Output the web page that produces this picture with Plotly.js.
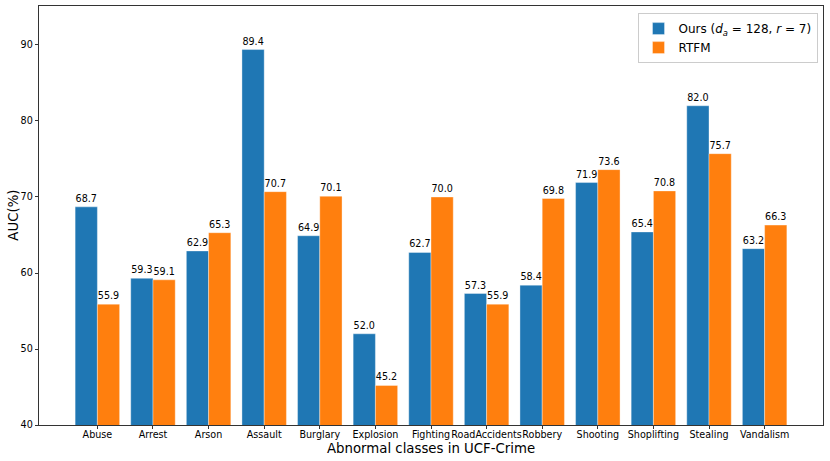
<!DOCTYPE html>
<html>
<head>
<meta charset="utf-8">
<script src="https://cdn.plot.ly/plotly-3.0.1.min.js"></script>
<style>
  html, body { margin: 0; padding: 0; background: #fff; }
  #chart { width: 830px; height: 461px; }
</style>
</head>
<body>
<div id="chart"></div>
<script>
var classes = ['Abuse', 'Arrest', 'Arson', 'Assault', 'Burglary', 'Explosion', 'Fighting',
    'RoadAccidents', 'Robbery', 'Shooting', 'Shoplifting', 'Stealing', 'Vandalism'];
var ours = [68.7, 59.3, 62.9, 89.4, 64.9, 52.0, 62.7, 57.3, 58.4, 71.9, 65.4, 82.0, 63.2];
var rtfm = [55.9, 59.1, 65.3, 70.7, 70.1, 45.2, 70.0, 55.9, 69.8, 73.6, 70.8, 75.7, 66.3];
var yTicks = [40, 50, 60, 70, 80, 90];

var positions = classes.map(function (c, i) { return i; });
var font = 'DejaVu Sans, sans-serif';

function series(name, values, color) {
    return {
        type: 'bar',
        name: name,
        x: positions,
        y: values,
        marker: {color: color, line: {color: 'rgba(255,255,255,0.6)', width: 0.6}},
        text: values.map(function (v) { return v.toFixed(1); }),
        textposition: 'outside',
        constraintext: 'none',
        cliponaxis: true,
        textfont: {family: font, size: 9.6, color: '#000'},
        hoverinfo: 'x+y'
    };
}

var data = [
    series('Ours (<i>d</i><sub><i>a</i></sub> = 128, <i>r</i> = 7)', ours, '#1f77b4'),
    series('RTFM', rtfm, '#ff7f0e')
];

// axis titles as annotations so they sit where matplotlib put them
var annotations = [
    {text: 'Abnormal classes in UCF-Crime', xref: 'paper', yref: 'paper', x: 0.5, y: -0.055,
     xanchor: 'center', yanchor: 'middle', showarrow: false, font: {family: font, size: 13.3}},
    {text: 'AUC(%)', xref: 'paper', yref: 'paper', x: -0.033, y: 0.5, textangle: -90,
     xanchor: 'center', yanchor: 'middle', showarrow: false, font: {family: font, size: 13.3}}
];

var layout = {
    width: 830,
    height: 461,
    margin: {l: 39, r: 7, t: 6, b: 36},
    paper_bgcolor: '#fff',
    plot_bgcolor: '#fff',
    font: {family: font, size: 9.6, color: '#000'},
    barmode: 'group',
    bargap: 0.2,
    bargroupgap: 0,
    showlegend: true,
    legend: {
        x: 0.993, y: 0.983, xanchor: 'right', yanchor: 'top',
        bordercolor: '#cccccc', borderwidth: 1, bgcolor: 'rgba(255,255,255,0.8)',
        font: {family: font, size: 12, color: '#000'},
        itemwidth: 30, tracegroupgap: 0
    },
    annotations: annotations,
    xaxis: {
        range: [-1.05, 13.05],
        tickvals: positions,
        ticktext: classes,
        tickangle: 0,
        ticklabelstandoff: -3,
        ticks: 'outside', ticklen: 3.5, tickwidth: 0.8, tickcolor: '#000',
        showline: true, linecolor: '#000', linewidth: 0.8, mirror: true,
        showgrid: false, zeroline: false,
        tickfont: {family: font, size: 9.6}
    },
    yaxis: {
        range: [40, 95.13],
        tickvals: yTicks,
        ticks: 'outside', ticklen: 3.5, tickwidth: 0.8, tickcolor: '#000',
        showline: true, linecolor: '#000', linewidth: 0.8, mirror: true,
        showgrid: false, zeroline: false,
        tickfont: {family: font, size: 9.6}
    }
};

Plotly.newPlot('chart', data, layout, {displayModeBar: false, staticPlot: true});
</script>
</body>
</html>
